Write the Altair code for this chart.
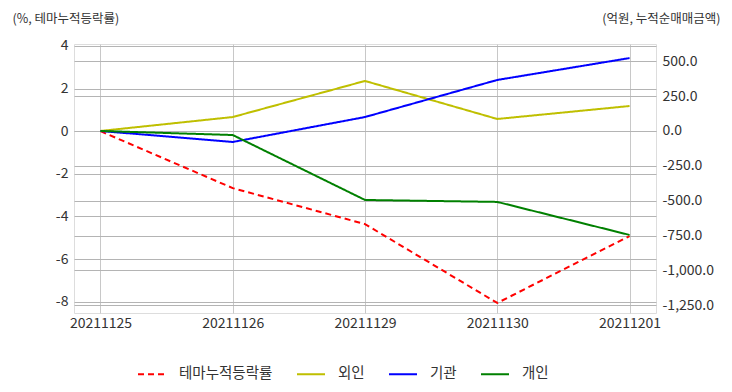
import altair as alt
import pandas as pd

dates = ["20211125", "20211126", "20211129", "20211130", "20211201"]
series_names = ["테마누적등락률", "외인", "기관", "개인"]
series_colors = ["#ff0000", "#bfbf00", "#0000ff", "#008000"]

theme_pct = [0.0, -2.67, -4.36, -8.06, -4.92]
foreign = [0.0, 100.0, 359.0, 86.0, 179.0]
institution = [0.0, -79.0, 100.0, 366.0, 523.0]
individual = [0.0, -29.0, -495.0, -509.0, -746.0]

left_ticks = [-8, -6, -4, -2, 0, 2, 4]
right_ticks = [-1250, -1000, -750, -500, -250, 0, 250, 500]

rows_left = [{"date": d, "series": series_names[0], "v": v} for d, v in zip(dates, theme_pct)]
rows_right = []
for name, vals in zip(series_names[1:], [foreign, institution, individual]):
    rows_right += [{"date": d, "series": name, "v": v} for d, v in zip(dates, vals)]

df_left = pd.DataFrame(rows_left)
df_right = pd.DataFrame(rows_right)

FONT = "Noto Sans CJK KR"
GRID = "#c8c8c8"
YGRID = "#b4b4b4"
MINUS_FIX = "replace(datum.label, '\u2212', '-')"

x_enc = alt.X("date:N", sort=dates,
              scale=alt.Scale(type="point", padding=0.2),
              axis=alt.Axis(title=None, labelAngle=0, grid=True, ticks=False, domain=False,
                            labelFontSize=14, labelPadding=3, gridColor=GRID))

color_enc = alt.Color("series:N",
                      scale=alt.Scale(domain=series_names, range=series_colors),
                      legend=alt.Legend(title=None, orient="none", direction="horizontal",
                                        legendX=63, legendY=315,
                                        symbolType="stroke", symbolSize=784,
                                        symbolStrokeWidth=2, labelFontSize=14.5,
                                        labelOffset=12, columnPadding=20,
                                        labelColor="#333333"))
dash_enc = alt.StrokeDash("series:N",
                          scale=alt.Scale(domain=series_names,
                                          range=[[6, 4], [1, 0], [1, 0], [1, 0]]),
                          legend=None)

left = alt.Chart(df_left).mark_line(strokeWidth=2).encode(
    x=x_enc,
    y=alt.Y("v:Q", scale=alt.Scale(domain=[-8.53, 4.09], nice=False, zero=False),
            axis=alt.Axis(title="(%, 테마누적등락률)", titleAngle=0, titleAlign="left",
                          titleBaseline="middle", titleX=-62, titleY=-26,
                          titleFontSize=12.5, titleFontWeight="normal", titleColor="#333333",
                          values=left_ticks, format="d", labelExpr=MINUS_FIX,
                          grid=True, gridColor=YGRID, gridWidth=1,
                          ticks=False, domain=False,
                          labelFontSize=14, labelPadding=6)),
    color=color_enc,
    strokeDash=dash_enc,
)

right = alt.Chart(df_right).mark_line(strokeWidth=2).encode(
    x=x_enc,
    y=alt.Y("v:Q", scale=alt.Scale(domain=[-1306, 624], nice=False, zero=False),
            axis=alt.Axis(orient="right", title="(억원, 누적순매매금액)", titleAngle=0,
                          titleAlign="right", titleBaseline="middle", titleX=64, titleY=-26,
                          titleFontSize=12.5, titleFontWeight="normal", titleColor="#333333",
                          values=right_ticks, format=",.1f", labelExpr=MINUS_FIX,
                          grid=True, gridColor=YGRID, gridWidth=1,
                          ticks=False, domain=False,
                          labelFontSize=14, labelPadding=6)),
    color=color_enc,
    strokeDash=dash_enc,
    detail="series:N",
)

chart = alt.layer(left, right).resolve_scale(y="independent").properties(
    width=582, height=269,
    autosize=alt.AutoSizeParams(type="none"),
    padding={"left": 66, "top": 36, "right": 68, "bottom": 71},
).configure_view(stroke="#d4d4d4", strokeWidth=2.5).configure(
    font=FONT
).configure_axis(labelColor="#333333", labelFont=FONT, titleFont=FONT).configure_legend(
    labelFont=FONT
)

chart.save("out.html", embed_options={"renderer": "svg", "actions": False})
